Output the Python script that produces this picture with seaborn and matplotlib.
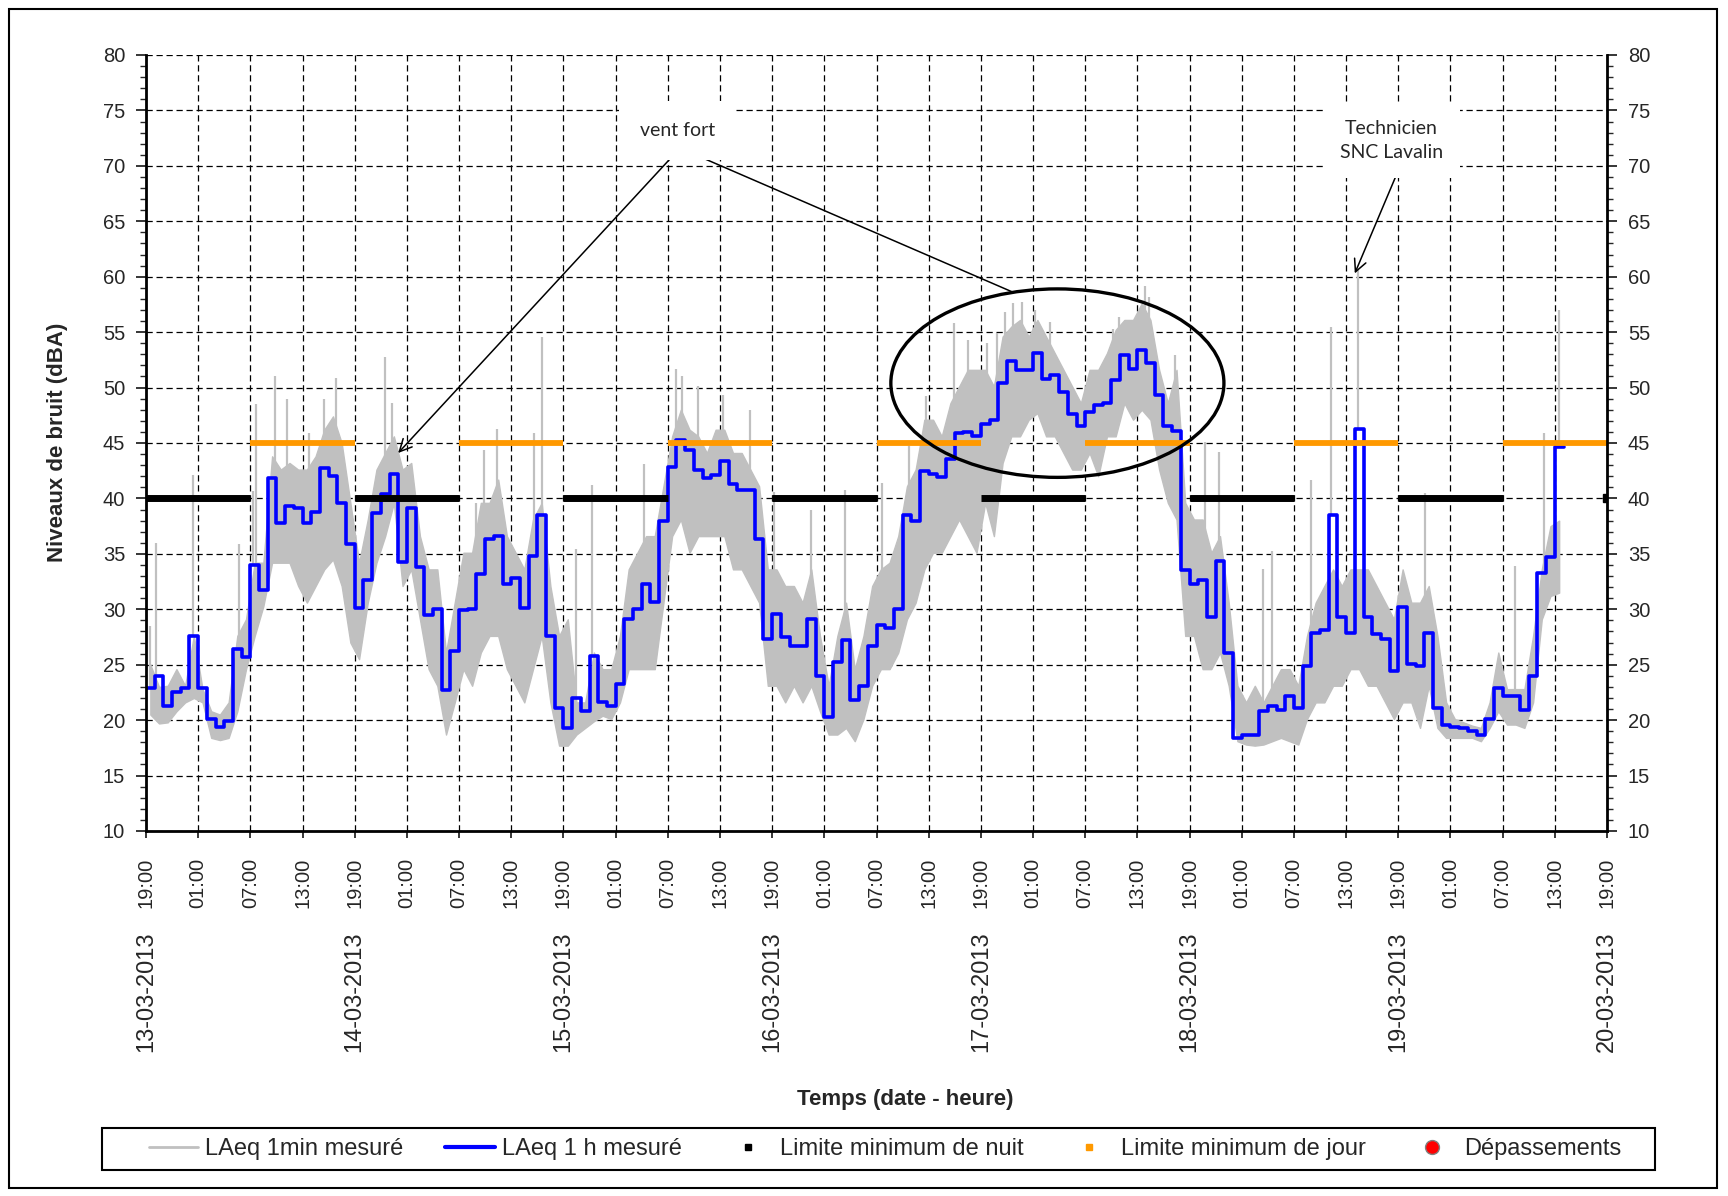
import numpy as np
import pandas as pd
import matplotlib
matplotlib.use("Agg")
import matplotlib.pyplot as plt
import seaborn as sns
from matplotlib.lines import Line2D
from matplotlib.patches import Ellipse, Rectangle

# ---------------------------------------------------------------- data
debut = pd.Timestamp("2013-03-13 19:00")
fin = pd.Timestamp("2013-03-20 19:00")

# LAeq 1 h (dBA), one value per hour starting 13-03-2013 19:00
laeq_1h = [
    22.9, 24.0, 21.3, 22.5, 22.9, 27.6, 22.9, 20.1, 19.4, 19.9, 26.4, 25.7,
    34.0, 31.7, 41.8, 37.8, 39.3, 39.1, 37.8, 38.8, 42.7, 42.0, 39.6, 35.9,
    30.1, 32.6, 38.7, 40.4, 42.2, 34.3, 39.1, 33.8, 29.5, 30.0, 22.7, 26.2,
    29.9, 30.0, 33.2, 36.3, 36.6, 32.3, 32.8, 30.1, 34.8, 38.5, 27.6, 21.1,
    19.3, 22.0, 20.8, 25.8, 21.6, 21.3, 23.3, 29.1, 30.0, 32.3, 30.7, 38.0,
    42.8, 45.3, 44.4, 42.6, 41.8, 42.1, 43.4, 41.3, 40.8, 40.8, 36.3, 27.3,
    29.6, 27.5, 26.7, 26.7, 29.1, 24.0, 20.3, 25.2, 27.2, 21.8, 23.1, 26.7,
    28.6, 28.3, 30.0, 38.5, 38.0, 42.5, 42.2, 41.9, 43.6, 45.9, 46.0, 45.6,
    46.7, 47.1, 50.4, 52.4, 51.6, 51.6, 53.1, 50.8, 51.1, 49.6, 47.6, 46.5,
    47.8, 48.4, 48.6, 50.7, 52.9, 51.7, 53.4, 52.2, 49.3, 46.5, 46.1, 33.5,
    32.3, 32.6, 29.3, 34.4, 26.1, 18.4, 18.7, 18.7, 20.8, 21.3, 20.9, 22.2,
    21.1, 24.9, 27.9, 28.1, 38.5, 29.3, 27.9, 46.3, 29.3, 27.8, 27.3, 24.4,
    30.2, 25.1, 24.9, 27.9, 21.1, 19.6, 19.4, 19.3, 19.0, 18.7, 20.1, 22.9,
    22.2, 22.2, 20.9, 24.0, 33.3, 34.7, 44.6,
]

# LAeq 1 min: hourly lower and upper levels of the dense trace
laeq_1min_bas = [
    20.5, 19.7, 19.8, 20.8, 21.6, 22.0, 21.6, 18.4, 18.2, 18.4, 20.8, 24.6,
    27.6, 30.3, 34.2, 34.2, 34.2, 32.1, 30.6, 32.1, 33.6, 34.5, 32.1, 27.0,
    25.5, 30.6, 34.2, 36.6, 39.6, 32.1, 33.6, 29.1, 24.6, 23.1, 18.7, 21.6,
    24.6, 23.1, 26.1, 27.6, 27.6, 24.6, 23.1, 21.6, 24.6, 27.6, 21.6, 17.7,
    17.7, 18.7, 19.3, 19.9, 20.4, 20.1, 21.6, 24.6, 24.6, 24.6, 24.6, 30.6,
    36.6, 38.1, 35.1, 36.6, 36.6, 36.6, 36.6, 33.6, 33.6, 32.1, 30.6, 23.1,
    23.1, 21.6, 23.1, 21.6, 23.1, 20.8, 18.7, 18.7, 19.3, 18.1, 20.1, 23.1,
    24.6, 24.6, 26.1, 29.1, 30.6, 33.6, 35.1, 35.1, 36.6, 38.1, 36.6, 35.1,
    39.6, 36.6, 43.2, 45.6, 45.6, 47.1, 47.7, 45.6, 45.6, 44.1, 42.6, 42.6,
    44.1, 42.0, 45.6, 45.6, 48.6, 47.1, 48.0, 47.1, 42.6, 39.6, 38.1, 27.6,
    27.6, 24.6, 24.6, 26.1, 23.1, 18.1, 17.8, 17.7, 17.8, 18.1, 18.4, 18.1,
    17.8, 20.1, 21.6, 21.6, 23.1, 23.1, 24.6, 24.6, 23.1, 23.1, 21.6, 20.1,
    21.6, 21.6, 19.3, 23.1, 19.3, 18.4, 18.4, 18.4, 18.4, 18.1, 19.3, 20.8,
    19.6, 19.6, 19.3, 21.6, 29.1, 31.2, 31.5,
]
laeq_1min_haut = [
    25.0, 23.0, 23.1, 24.6, 23.1, 27.6, 22.8, 20.8, 20.5, 21.6, 27.6, 29.1,
    34.2, 34.2, 43.8, 42.6, 43.2, 42.6, 42.6, 43.8, 46.2, 47.4, 45.0, 39.6,
    34.2, 38.1, 42.6, 44.1, 45.6, 42.6, 43.2, 36.6, 33.6, 33.6, 26.1, 30.6,
    35.1, 35.1, 39.6, 39.6, 41.7, 36.6, 35.1, 33.6, 38.1, 39.6, 32.1, 27.6,
    29.1, 21.6, 21.6, 26.1, 24.6, 24.6, 27.6, 33.6, 35.1, 36.6, 36.6, 41.1,
    45.6, 48.0, 46.2, 45.6, 44.1, 46.2, 46.2, 44.1, 44.1, 42.6, 41.1, 33.6,
    33.6, 32.1, 32.1, 30.6, 33.6, 27.6, 23.1, 27.6, 30.6, 24.6, 27.6, 32.1,
    33.6, 34.2, 36.6, 41.1, 42.6, 47.1, 47.1, 45.6, 48.6, 50.1, 51.6, 51.6,
    51.6, 50.1, 54.6, 55.5, 56.1, 54.6, 56.1, 54.6, 53.1, 51.6, 50.1, 48.6,
    51.6, 51.6, 53.1, 55.2, 56.1, 56.1, 57.6, 56.1, 51.6, 48.6, 51.6, 39.6,
    38.1, 38.1, 35.1, 36.6, 30.6, 23.1, 21.6, 23.1, 21.6, 23.1, 24.6, 24.6,
    23.1, 27.6, 30.6, 32.1, 33.6, 32.1, 33.6, 33.6, 33.6, 32.1, 30.6, 29.1,
    33.6, 30.6, 30.6, 32.1, 27.6, 21.6, 20.1, 19.8, 19.5, 19.3, 21.6, 26.1,
    22.8, 22.8, 22.8, 27.6, 33.6, 37.5, 38.0,
]

# LAeq 1 min: isolated peaks (hours since start, dBA)
pics_heure = [
    0.46, 1.1, 5.35, 10.7, 12.3, 12.7, 14.8, 16.2, 18.7, 20.5, 21.8,
    27.5, 28.3, 37.9, 38.85, 40.4, 44.6, 45.5,
    49.5, 51.3, 57.3, 60.9, 61.65, 63.5, 66.3, 69.5,
    72.2, 76.5, 80.4, 84.6, 87.7, 89.7, 92.9, 94.5,
    96.7, 97.8, 98.8, 99.75, 100.7, 102.2, 103.9, 111.2, 111.9, 114.9, 115.3, 118.3,
    121.8, 123.4, 128.5, 129.5, 134.0, 136.3, 139.35,
    147.1, 157.4, 160.8, 162.5,
]
pics_niveau = [
    28.5, 36.0, 42.1, 35.9, 40.7, 48.5, 51.0, 49.0, 45.9, 49.0, 50.9,
    52.8, 48.6, 39.6, 44.4, 46.3, 45.9, 54.6,
    35.4, 41.2, 43.1, 51.7, 51.0, 50.1, 49.3, 48.0,
    40.6, 39.0, 40.8, 41.4, 44.7, 49.2, 55.8, 54.3,
    54.0, 54.9, 56.8, 57.6, 57.7, 57.0, 55.9, 55.3, 56.4, 59.2, 58.2, 52.9,
    45.1, 44.2, 33.6, 35.3, 41.7, 55.5, 60.6,
    40.5, 33.9, 45.9, 57.0,
]

limite_nuit = 40   # 19:00 - 07:00
limite_jour = 45   # 07:00 - 19:00

etiquettes_jours = ["13-03-2013", "14-03-2013", "15-03-2013", "16-03-2013",
                    "17-03-2013", "18-03-2013", "19-03-2013", "20-03-2013"]

# ---------------------------------------------------------------- prep
n = len(laeq_1h)
heures = np.arange(n)
df_1h = pd.DataFrame({"heure": np.append(heures, n).astype(float),
                      "LAeq": laeq_1h + [laeq_1h[-1]]})

duree = int((fin - debut) / pd.Timedelta(hours=1))
grille = np.arange(duree + 1)
heure_du_jour = np.array([(debut + pd.Timedelta(hours=int(k))).hour for k in grille])
nuit = np.where((heure_du_jour >= 19) | (heure_du_jour <= 7), limite_nuit, np.nan)
jour = np.where((heure_du_jour >= 7) & (heure_du_jour <= 19), limite_jour, np.nan)

# ---------------------------------------------------------------- style
sns.set_style("white")
plt.rcParams["font.family"] = ["Liberation Sans", "DejaVu Sans"]
narrow = ["Liberation Sans Narrow", "Liberation Sans", "DejaVu Sans"]
calib = ["Lato", "Open Sans", "DejaVu Sans"]

fig = plt.figure(figsize=(17.28, 11.96), dpi=100)
ax = fig.add_axes([146 / 1728, 1 - 831 / 1196, (1607 - 146) / 1728, (831 - 55) / 1196])

GRIS = "#c0c0c0"

# 1-min trace
ax.fill_between(heures + 0.5, laeq_1min_bas, laeq_1min_haut, color=GRIS,
                lw=1.0, edgecolor=GRIS, zorder=2)
base_pics = [laeq_1h[int(t)] for t in pics_heure]
ax.vlines(pics_heure, base_pics, pics_niveau, color=GRIS, lw=1.6, zorder=2)

# hourly LAeq
sns.lineplot(data=df_1h, x="heure", y="LAeq", drawstyle="steps-post",
             estimator=None, color="#0000ff", lw=2.6, ax=ax, zorder=3)

# limits
ax.plot(grille, nuit, color="black", lw=5.0, solid_capstyle="butt", zorder=4)
ax.plot(grille, jour, color="#ff9900", lw=4.2, solid_capstyle="butt", zorder=4)
ax.plot(grille, nuit, color="black", lw=0, marker="s", ms=5.5, zorder=5,
        markevery=[len(grille) - 1])

# axes
ax.set_xlim(0, duree)
ax.set_ylim(10, 80)
ax.set_xlabel("")
ax.set_ylabel("")
ticks_x = np.arange(0, duree + 1, 6)
ax.set_xticks(ticks_x)
ax.set_xticklabels([(debut + pd.Timedelta(hours=int(t))).strftime("%H:%M") for t in ticks_x],
                   rotation=90, fontsize=14.5)
ax.set_yticks(np.arange(10, 81, 5))
ax.set_yticks(np.arange(10, 81, 1), minor=True)
ax.tick_params(axis="y", which="major", direction="out", length=7, width=1.3,
               labelsize=14.5, left=True, right=True, labelleft=True, labelright=True, pad=8)
ax.tick_params(axis="y", which="minor", direction="out", length=4, width=1.0,
               left=True, right=True)
ax.tick_params(axis="x", which="major", direction="out", length=5, width=1.3,
               bottom=True, pad=14)

ax.grid(True, which="major", color="black", lw=0.9, ls=(0, (5, 3)))
for gl in ax.get_xgridlines() + ax.get_ygridlines():
    gl.set_zorder(1)
for s in ["left", "right", "bottom"]:
    ax.spines[s].set_color("black")
    ax.spines[s].set_linewidth(2.0)
    ax.spines[s].set_zorder(6)
ax.spines["top"].set_visible(False)

# date labels under the 19:00 ticks
for i, lab in enumerate(etiquettes_jours):
    ax.annotate(lab, xy=(24 * i, 0), xycoords=("data", "axes fraction"),
                xytext=(0, -72), textcoords="offset points", rotation=90,
                ha="center", va="top", fontsize=17)

fig.text(905 / 1728, 1 - 1099 / 1196, "Temps (date - heure)", ha="center", va="center",
         fontsize=16, fontweight="bold", family=narrow)
fig.text(58 / 1728, 1 - 442 / 1196, "Niveaux de bruit (dBA)", ha="center", va="center",
         rotation=90, fontsize=16, fontweight="bold", family=narrow)

# annotations
ax.add_patch(Ellipse((104.8, 50.4), 38.3, 17.0, fill=False, lw=2.4,
                     edgecolor="black", zorder=7))
ax.annotate("", xy=(29.0, 44.1), xytext=(61.4, 71.6),
            arrowprops=dict(arrowstyle="->", lw=1.1, color="black",
                            shrinkA=0, shrinkB=0, mutation_scale=22), zorder=7)
ax.plot([61.4, 99.7], [71.6, 58.6], color="black", lw=1.1, zorder=7)
ax.text(61.1, 73.2, "vent fort", ha="center", va="center", fontsize=14,
        family=calib, zorder=8,
        bbox=dict(facecolor="white", edgecolor="none", pad=15))
ax.annotate("", xy=(139.0, 60.3), xytext=(143.9, 69.4),
            arrowprops=dict(arrowstyle="->", lw=1.1, color="black",
                            shrinkA=0, shrinkB=0, mutation_scale=22), zorder=7)
ax.text(143.2, 72.3, "Technicien\nSNC Lavalin", ha="center", va="center",
        fontsize=14, family=calib, linespacing=1.5, zorder=8,
        bbox=dict(facecolor="white", edgecolor="none", pad=12))

# legend: frame drawn separately, entries centred inside it
fig.patches.append(Rectangle((102 / 1728, 1 - 1170 / 1196), (1655 - 102) / 1728, 42 / 1196,
                             transform=fig.transFigure, fill=True, facecolor="white",
                             edgecolor="black", lw=1.5))
poignees = [
    Line2D([], [], color=GRIS, lw=2.0),
    Line2D([], [], color="#0000ff", lw=3.0),
    Line2D([], [], color="black", lw=0, marker="s", ms=5),
    Line2D([], [], color="#ff9900", lw=0, marker="s", ms=5),
    Line2D([], [], color="#ff0000", lw=0, marker="o", ms=10, mec="#808080"),
]
noms = ["LAeq 1min mesuré", "LAeq 1 h mesuré", "Limite minimum de nuit",
        "Limite minimum de jour", "Dépassements"]
fig.legend(poignees, noms, loc="center", ncol=5,
           bbox_to_anchor=(885 / 1728, 1 - 1149 / 1196),
           frameon=False, fontsize=17, handlelength=2.1,
           handletextpad=0.3, columnspacing=1.75, borderaxespad=0, borderpad=0.2)

# outer frame
fig.patches.append(Rectangle((9 / 1728, 8 / 1196), (1717 - 9) / 1728, (1188 - 9) / 1196,
                             transform=fig.transFigure, fill=False,
                             edgecolor="black", lw=1.5))

fig.savefig("out.png", dpi=100, facecolor="white")
